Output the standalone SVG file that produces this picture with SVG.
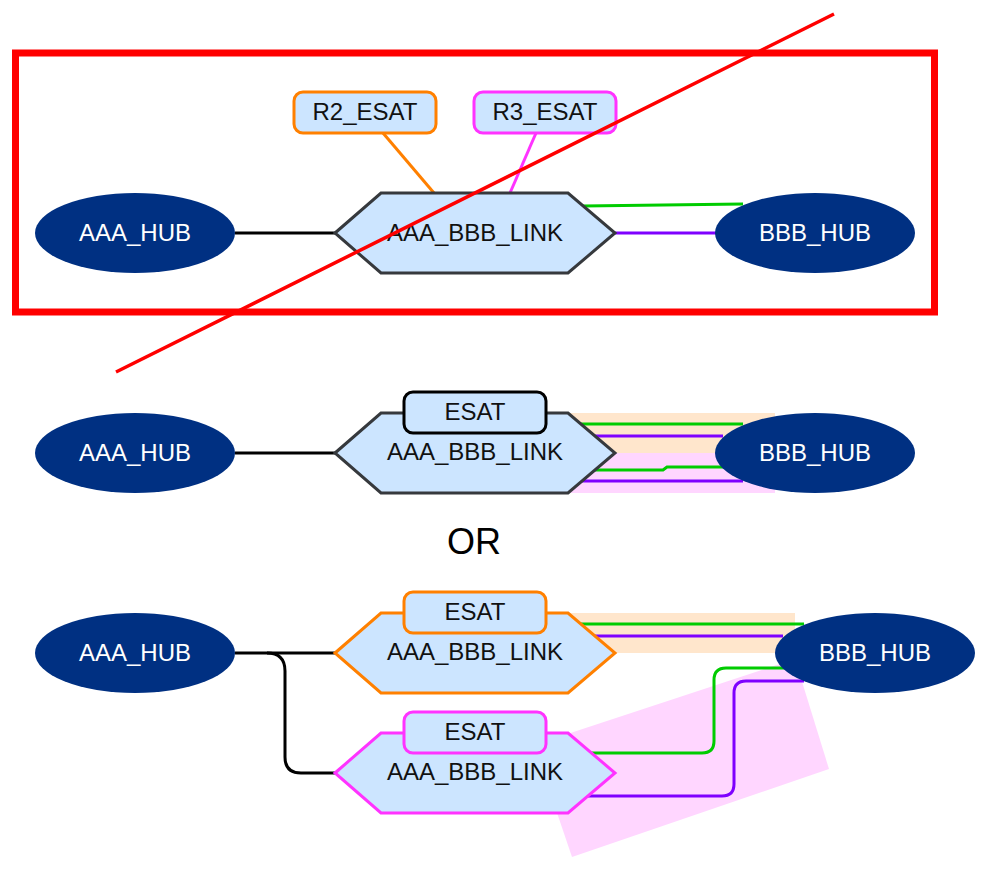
<svg xmlns="http://www.w3.org/2000/svg" width="988" height="870" viewBox="0 0 988 870">
<defs>
<style>
.hub{fill:#003082;stroke:none}
.hubt{fill:#ffffff;font-family:"Liberation Sans",Arial,sans-serif;font-size:24px;text-anchor:middle}
.lbl{fill:#111111;font-family:"Liberation Sans",Arial,sans-serif;font-size:24px;text-anchor:middle}
.hex{fill:#cce5ff;stroke-width:3;stroke-linejoin:miter}
.box{fill:#cce5ff;stroke-width:3}
.c{fill:none;stroke-width:3}
.blk{stroke:#000000}
.grn{stroke:#00cc00}
.pur{stroke:#7f00ff}
.org{stroke:#ff8000}
.mag{stroke:#ff33ff}
.gry{stroke:#36393d}
</style>
</defs>
<rect width="988" height="870" fill="#ffffff"/>

<!-- highlight bands -->
<g id="bands">
<rect x="570" y="413" width="205" height="40" fill="#ffe6cc"/>
<rect x="570" y="453" width="205" height="40" fill="#ffd6ff"/>
<rect x="570" y="613" width="225" height="40" fill="#ffe6cc"/>
<polygon points="534,745 795,659 829,769 572,857" fill="#ffd6ff"/>
</g>

<g id="connectors">
<!-- top section -->
<line class="c blk" x1="235" y1="233" x2="336" y2="233"/>
<line class="c pur" x1="614" y1="233" x2="716" y2="233"/>
<path class="c grn" d="M583,206 L743,204"/>
<line class="c org" x1="383" y1="133" x2="434" y2="193"/>
<line class="c mag" x1="536" y1="133" x2="510" y2="193"/>
<!-- middle section -->
<line class="c blk" x1="235" y1="453" x2="336" y2="453"/>
<line class="c grn" x1="578" y1="424" x2="743" y2="424"/>
<line class="c pur" x1="590" y1="436" x2="723" y2="436"/>
<path class="c grn" d="M590,470 L663,470 L667,467 L727,467"/>
<line class="c pur" x1="578" y1="481" x2="743" y2="481"/>
<!-- bottom section -->
<line class="c blk" x1="235" y1="653" x2="336" y2="653"/>
<path class="c blk" d="M267,653 Q285,653 285,671 L285,757 Q285,773 301,773 L336,773"/>
<line class="c grn" x1="578" y1="624" x2="804" y2="624"/>
<line class="c pur" x1="590" y1="636" x2="783" y2="636"/>
<path class="c grn" d="M588,753 L702,753 Q714,753 714,741 L714,680 Q714,668 726,668 L787,668"/>
<path class="c pur" d="M584,796 L722,796 Q734,796 734,784 L734,693 Q734,681 746,681 L804,681"/>
</g>

<!-- top section nodes -->
<g id="top-aaa-hub"><ellipse class="hub" cx="135" cy="233" rx="100" ry="40"/><text class="hubt" x="135" y="241">AAA_HUB</text></g>
<g id="top-bbb-hub"><ellipse class="hub" cx="815" cy="233" rx="100" ry="40"/><text class="hubt" x="815" y="241">BBB_HUB</text></g>
<g id="top-link"><polygon class="hex gry" points="335,233 381,193 568,193 615,233 568,273 381,273"/><text class="lbl" x="475" y="241">AAA_BBB_LINK</text></g>
<g id="top-r2"><rect class="box org" x="294" y="92" width="142" height="41" rx="9"/><text class="lbl" x="365" y="120">R2_ESAT</text></g>
<g id="top-r3"><rect class="box mag" x="474" y="92" width="142" height="41" rx="9"/><text class="lbl" x="545" y="120">R3_ESAT</text></g>

<!-- middle section nodes -->
<g id="mid-aaa-hub"><ellipse class="hub" cx="135" cy="453" rx="100" ry="40"/><text class="hubt" x="135" y="461">AAA_HUB</text></g>
<g id="mid-bbb-hub"><ellipse class="hub" cx="815" cy="453" rx="100" ry="40"/><text class="hubt" x="815" y="461">BBB_HUB</text></g>
<g id="mid-link"><polygon class="hex gry" points="335,453 381,413 568,413 615,453 568,493 381,493"/><text class="lbl" x="475" y="460">AAA_BBB_LINK</text></g>
<g id="mid-esat"><rect class="box blk" x="404" y="392" width="142" height="41" rx="9"/><text class="lbl" x="475" y="420">ESAT</text></g>

<text id="or" x="474" y="554" fill="#000000" font-family="&quot;Liberation Sans&quot;,Arial,sans-serif" font-size="36" text-anchor="middle">OR</text>

<!-- bottom section nodes -->
<g id="bot-aaa-hub"><ellipse class="hub" cx="135" cy="653" rx="100" ry="40"/><text class="hubt" x="135" y="661">AAA_HUB</text></g>
<g id="bot-bbb-hub"><ellipse class="hub" cx="875" cy="653" rx="100" ry="40"/><text class="hubt" x="875" y="661">BBB_HUB</text></g>
<g id="bot-link1"><polygon class="hex org" points="335,653 381,613 568,613 615,653 568,693 381,693"/><text class="lbl" x="475" y="660">AAA_BBB_LINK</text></g>
<g id="bot-esat1"><rect class="box org" x="404" y="592" width="142" height="41" rx="9"/><text class="lbl" x="475" y="620">ESAT</text></g>
<g id="bot-link2"><polygon class="hex mag" points="335,773 381,733 568,733 615,773 568,813 381,813"/><text class="lbl" x="475" y="780">AAA_BBB_LINK</text></g>
<g id="bot-esat2"><rect class="box mag" x="404" y="712" width="142" height="41" rx="9"/><text class="lbl" x="475" y="740">ESAT</text></g>

<!-- crossed-out frame -->
<g id="cross-out">
<rect x="15.5" y="53" width="919" height="259" fill="none" stroke="#ff0000" stroke-width="7"/>
<line x1="116" y1="372" x2="834" y2="14" stroke="#ff0000" stroke-width="3.5"/>
</g>
</svg>
